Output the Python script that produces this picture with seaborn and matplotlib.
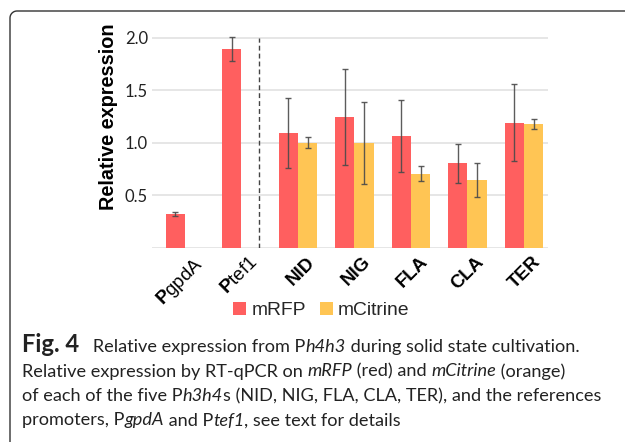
import matplotlib
matplotlib.use("Agg")
import numpy as np
import pandas as pd
import seaborn as sns
import matplotlib.pyplot as plt
from matplotlib import transforms
from matplotlib.lines import Line2D

# ---------------- data ----------------
promoters = ["PgpdA", "Ptef1", "NID", "NIG", "FLA", "CLA", "TER"]
reporters = ["mRFP", "mCitrine"]
mrfp = [0.32, 1.89, 1.09, 1.245, 1.065, 0.805, 1.19]
mrfp_err = [0.02, 0.115, 0.335, 0.455, 0.34, 0.187, 0.365]
mcit = [np.nan, np.nan, 1.0, 1.0, 0.705, 0.642, 1.175]
mcit_err = [np.nan, np.nan, 0.055, 0.39, 0.07, 0.16, 0.047]
tick_labels = [r"$\mathbf{P}$gpdA", r"$\mathbf{P}$tef1", "NID", "NIG", "FLA", "CLA", "TER"]
colors = ["#FF5F5F", "#FFC554"]

rows = []
for p, v in zip(promoters, mrfp):
    rows.append((p, "mRFP", v))
for p, v in zip(promoters, mcit):
    rows.append((p, "mCitrine", v))
df = pd.DataFrame(rows, columns=["promoter", "reporter", "value"]).dropna()

# ---------------- style ----------------
sns.set_theme(style="white")
plt.rcParams["font.family"] = ["Liberation Sans", "DejaVu Sans"]
plt.rcParams["mathtext.fontset"] = "custom"
plt.rcParams["mathtext.rm"] = "Liberation Sans"
plt.rcParams["mathtext.bf"] = "Liberation Sans:bold"
plt.rcParams["mathtext.it"] = "Liberation Sans:italic"

fig = plt.figure(figsize=(6.25, 4.42), dpi=100)
ax = fig.add_axes([0.2432, 0.4396, 0.6336, 0.4870])

sns.barplot(data=df, x="promoter", y="value", hue="reporter", order=promoters,
            hue_order=reporters, palette=colors, width=0.68, errorbar=None,
            saturation=1, linewidth=0, ax=ax)

# error bars placed on the bars drawn by seaborn
for cont, errs in zip(ax.containers, [mrfp_err, mcit_err]):
    for bar in cont:
        h = bar.get_height()
        if not np.isfinite(h):
            continue
        xc = bar.get_x() + bar.get_width() / 2
        idx = int(round(xc))
        ax.errorbar(xc, h, yerr=errs[idx], fmt="none", ecolor="#4a4a4a",
                    elinewidth=1.0, capsize=2.2, capthick=1.0, alpha=0.9, zorder=4)

ax.set_xlim(-0.584, 6.425)
ax.set_ylim(0, 2.05)
ax.set_yticks([0.5, 1.0, 1.5, 2.0])
ax.set_yticklabels(["0.5", "1.0", "1.5", "2.0"], family=["Lato", "DejaVu Sans"],
                   fontsize=12, color="#222222")
ax.yaxis.grid(True, color="#e2e2e2", lw=1.2)
ax.axhline(0, color="#e2e2e2", lw=1.2, zorder=0)
ax.set_axisbelow(True)
for s in ax.spines.values():
    s.set_visible(False)
ax.tick_params(axis="both", length=0)
ax.tick_params(axis="y", pad=3)

# divider
ax.axvline(1.31, ymin=0, ymax=2.0 / 2.05, color="#444444", lw=1.0, dashes=(3.5, 2.2))

# x tick labels
ax.set_xticks(range(len(promoters)))
ax.set_xticklabels(tick_labels, rotation=45, ha="right", rotation_mode="anchor",
                   fontsize=13.5, color="black")
off = transforms.ScaledTranslation(8 / 100, -1 / 100, fig.dpi_scale_trans)
for i, t in enumerate(ax.get_xticklabels()):
    if i >= 2:
        t.set_fontweight("bold")
    t.set_transform(t.get_transform() + off)
ax.set_xlabel("")

ax.set_ylabel("Relative expression", fontsize=14.3, fontweight="bold", color="black")
ax.yaxis.set_label_coords(-0.087, 0.607)

# legend
sns.move_legend(ax, "center", bbox_to_anchor=(0.514, 0.298), bbox_transform=fig.transFigure,
                ncol=2, frameon=False, title=None, fontsize=13.9, handlelength=0.67,
                handleheight=0.67, handletextpad=0.26, columnspacing=0.72)

# ---------------- caption ----------------
cap_font = ["Lato", "DejaVu Sans"]
cap_size = 13.1
cap_color = "#222222"
lines = [
    [("Fig. 4", "bold"), ("   Relative expression from P", "normal"), ("h4h3", "italic"),
     (" during solid state cultivation.", "normal")],
    [("Relative expression by RT-qPCR on ", "normal"), ("mRFP", "italic"), (" (red) and ", "normal"),
     ("mCitrine", "italic"), (" (orange)", "normal")],
    [("of each of the five P", "normal"), ("h3h4", "italic"),
     ("s (NID, NIG, FLA, CLA, TER), and the references", "normal")],
    [("promoters, P", "normal"), ("gpdA", "italic"), (" and P", "normal"), ("tef1", "italic"),
     (", see text for details", "normal")],
]
baselines_px = [352, 376.5, 401, 425.5]
renderer = fig.canvas.get_renderer()


def run_width(s, style):
    kw = dict(family=cap_font, fontsize=cap_size)
    if style == "bold":
        kw["fontweight"] = "bold"
        kw["fontsize"] = cap_size + 4.0
    elif style == "italic":
        kw["fontstyle"] = "italic"
    a = fig.text(0, 0, "|" + s + "|", **kw)
    b = fig.text(0, 0, "||", **kw)
    w = a.get_window_extent(renderer).width - b.get_window_extent(renderer).width
    a.remove(); b.remove()
    return w, kw


W, H = fig.bbox.width, fig.bbox.height
for line, ybase in zip(lines, baselines_px):
    x = 22.0
    for s, style in line:
        w, kw = run_width(s, style)
        fig.text(x / W, 1 - ybase / H, s, va="baseline", ha="left", color=cap_color, **kw)
        x += w

# ---------------- frame ----------------
r = 7.0
top = H - 11.0
left = 10.0
ang = np.linspace(np.pi, np.pi / 2, 12)
xs = [left] + list(left + r + r * np.cos(ang)) + [W + 5]
ys = [-5] + list(top - r + r * np.sin(ang)) + [top]
fig.add_artist(Line2D(xs, ys, transform=transforms.IdentityTransform(), color="#333333", lw=1.0))

fig.savefig("out.png", dpi=100)
